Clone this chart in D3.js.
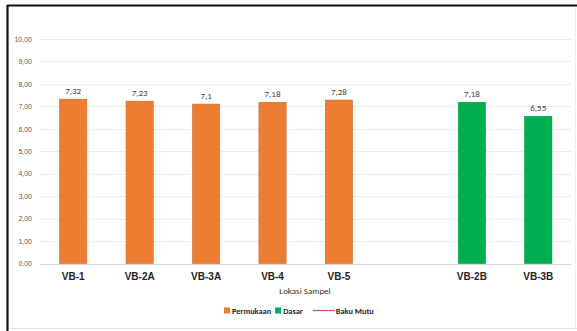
<!DOCTYPE html>
<html>
<head>
<meta charset="utf-8">
<script src="https://cdn.jsdelivr.net/npm/d3@7/dist/d3.min.js"></script>
<style>
  html, body { margin: 0; padding: 0; background: #fff; }
  svg { display: block; font-family: Calibri, Carlito, "Liberation Sans", "Open Sans", sans-serif; }
</style>
</head>
<body>
<svg id="chart" width="577" height="331"></svg>
<script>
// Sample locations (one empty slot separates surface and bottom samples)
const categories = ["VB-1", "VB-2A", "VB-3A", "VB-4", "VB-5", "", "VB-2B", "VB-3B"];
const permukaan = [7.32, 7.23, 7.10, 7.18, 7.28, null, null, null];
const dasar     = [null, null, null, null, null, null, 7.18, 6.55];
const valueLabels = ["7,32", "7,23", "7,1", "7,18", "7,28", "", "7,18", "6,55"];
const yTicks = [0, 1, 2, 3, 4, 5, 6, 7, 8, 9, 10];
const legendItems = [
  { name: "Permukaan", color: "#ED7D31", type: "box", gap: 4 },
  { name: "Dasar", color: "#00B050", type: "box", gap: 10 },
  { name: "Baku Mutu", color: "#C0504D", type: "line", gap: 0 }
];

const svg = d3.select("#chart");
const W = 577, H = 331;

// Frame
svg.append("rect").attr("x", 0).attr("y", 0).attr("width", W).attr("height", H).attr("fill", "#fff");
svg.append("line").attr("x1", 7).attr("x2", W).attr("y1", 5.5).attr("y2", 5.5)
  .attr("stroke", "#111").attr("stroke-width", 2.2);
svg.append("line").attr("x1", 7.5).attr("x2", 7.5).attr("y1", 5).attr("y2", H)
  .attr("stroke", "#111").attr("stroke-width", 2.2);
svg.append("line").attr("x1", 10).attr("x2", W).attr("y1", 328.5).attr("y2", 328.5)
  .attr("stroke", "#e2e2e2").attr("stroke-width", 1);
svg.append("line").attr("x1", 575.5).attr("x2", 575.5).attr("y1", 7).attr("y2", 328)
  .attr("stroke", "#f0f0f0").attr("stroke-width", 1);

const plot = { left: 40, right: 571.5, top: 39, bottom: 263.5 };

const x = d3.scaleBand().domain(d3.range(categories.length))
  .range([plot.left, plot.right]).paddingInner(0.59).paddingOuter(0.295);
const y = d3.scaleLinear().domain([0, 10]).range([plot.bottom, plot.top]);

// Gridlines
svg.append("g").selectAll("line").data(yTicks).join("line")
  .attr("x1", plot.left).attr("x2", plot.right)
  .attr("y1", d => Math.round(y(d)) + 0.5).attr("y2", d => Math.round(y(d)) + 0.5)
  .attr("stroke", d => d === 0 ? "#d9d9d9" : "#ececec").attr("stroke-width", 1);

// Y axis tick labels
const fmt = d => d3.format(".2f")(d).replace(".", ",");
const yAxis = d3.axisLeft(y).tickValues(yTicks).tickFormat(fmt).tickSize(0).tickPadding(8);
const gy = svg.append("g").attr("transform", `translate(${plot.left},0)`).call(yAxis);
gy.select(".domain").remove();
gy.selectAll("text").attr("fill", "#595959").style("font-size", "7px")
  .style("font-family", "\"Liberation Sans\", sans-serif");

// Bars
function drawSeries(values, color) {
  svg.append("g").selectAll("rect")
    .data(values.map((v, i) => ({ v, i })).filter(d => d.v != null))
    .join("rect")
    .attr("x", d => x(d.i)).attr("width", x.bandwidth())
    .attr("y", d => y(d.v)).attr("height", d => y(0) - y(d.v))
    .attr("fill", color)
    .attr("stroke", d3.color(color).darker(0.4)).attr("stroke-width", 0.6);
}
drawSeries(permukaan, "#ED7D31");
drawSeries(dasar, "#00B050");

// Value labels
svg.append("g").selectAll("text")
  .data(categories.map((c, i) => ({ i, v: permukaan[i] ?? dasar[i], t: valueLabels[i] })).filter(d => d.v != null))
  .join("text")
  .attr("x", d => x(d.i) + x.bandwidth() / 2).attr("y", d => y(d.v) - 5)
  .attr("text-anchor", "middle").attr("fill", "#404040").style("font-size", "9px")
  .text(d => d.t);

// Category axis
const xAxis = d3.axisBottom(x).tickFormat(i => categories[i]).tickSize(0).tickPadding(9);
const gx = svg.append("g").attr("transform", `translate(0,${plot.bottom})`).call(xAxis);
gx.select(".domain").remove();
gx.selectAll("text").attr("fill", "#262626").style("font-size", "10px").style("font-weight", "bold");

// Axis title
svg.append("text").attr("x", 305).attr("y", 294)
  .attr("text-anchor", "middle").attr("fill", "#333").style("font-size", "9px")
  .text("Lokasi Sampel");

// Legend
const lg = svg.append("g").attr("transform", "translate(224,312)");
let lx = 0;
legendItems.forEach(item => {
  const g = lg.append("g").attr("transform", `translate(${lx},0)`);
  let off;
  if (item.type === "box") {
    g.append("rect").attr("x", 0).attr("y", -4.5).attr("width", 6).attr("height", 6).attr("fill", item.color);
    off = 8;
  } else {
    g.append("line").attr("x1", 0).attr("x2", 22).attr("y1", -1.5).attr("y2", -1.5)
      .attr("stroke", item.color).attr("stroke-width", 1.2);
    off = 23;
  }
  const t = g.append("text").attr("x", off).attr("y", 1.5).attr("fill", "#262626")
    .style("font-size", "8.3px").style("font-weight", "bold").text(item.name);
  lx += off + t.node().getComputedTextLength() + item.gap;
});
</script>
</body>
</html>
